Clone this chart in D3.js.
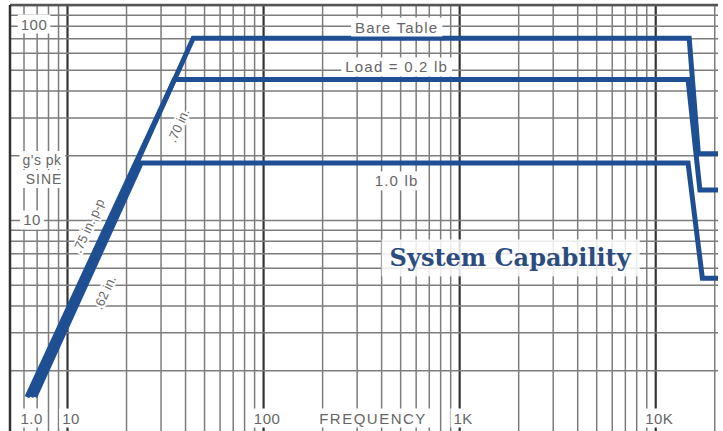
<!DOCTYPE html>
<html lang="en">
<head>
    <meta charset="UTF-8">
    <title>System Capability</title>
    <script src="https://d3js.org/d3.v7.min.js"></script>
    <style>
        * {
            margin: 0;
            padding: 0;
            box-sizing: border-box;
        }
        body {
            background: #fff;
            font-family: "Liberation Sans", Arial, sans-serif;
        }
    </style>
</head>
<body>
    <div id="chart"></div>

    <script>
        // frequency (Hz) / acceleration (g's pk) pairs
        const bareTable = [[6.55, 1.5], [44, 70], [14900, 70], [16600, 20.3], [22000, 20.3]];
        const load02 = [[6.25, 1.5], [35.3, 45], [14700, 45], [16900, 13.8], [22000, 13.8]];
        const load10 = [[6.85, 1.5], [23.9, 18.4], [14700, 18.4], [17400, 5.35], [22000, 5.35]];

        const seriesNames = ["Bare Table", "Load = 0.2 lb", "1.0 lb"];
        const seriesLabelPos = [[480, 79], [480, 51.5], [480, 15.2]];

        const xTickValues = [6.3, 10, 100, 1000, 10000];
        const xTickLabels = ["1.0", "10", "100", "1K", "10K"];

        // displacement limit notes: text, freq, g
        const dispNotes = [[".70 in.", 37, 27.5], [".75 in. p-p", 12.9, 9.4], [".62 in.", 15.6, 4.6]];

        const W = 723, H = 431;
        const plot = { left: 10, right: 718, top: 5, bottom: 431 };

        const x = d3.scaleLog().domain([5.12, 20900]).range([plot.left, plot.right]);
        const y = d3.scaleLog().domain([1.043, 100]).range([plot.bottom, plot.top]);

        const svg = d3.select("#chart")
            .append("svg")
            .attr("width", W)
            .attr("height", H);

        svg.append("defs").append("clipPath")
            .attr("id", "clip")
            .append("rect")
            .attr("x", plot.left)
            .attr("y", plot.top)
            .attr("width", plot.right - plot.left)
            .attr("height", plot.bottom - plot.top);

        const isMajor = v => Math.abs(Math.log10(v) - Math.round(Math.log10(v))) < 1e-6;

        // vertical grid
        const gx = svg.append("g")
            .attr("transform", `translate(0, ${plot.bottom})`)
            .call(d3.axisBottom(x)
                .tickValues(x.ticks())
                .tickSize(-(plot.bottom - plot.top))
                .tickFormat(""));
        gx.select(".domain").remove();
        gx.selectAll("line")
            .style("stroke", d => isMajor(d) ? "#333" : "#7d7d7d")
            .style("stroke-width", d => isMajor(d) ? 2.2 : 1.5);

        // horizontal grid
        const gy = svg.append("g")
            .attr("transform", `translate(${plot.left}, 0)`)
            .call(d3.axisLeft(y)
                .tickValues(y.ticks())
                .tickSize(-(plot.right - plot.left))
                .tickFormat(""));
        gy.select(".domain").remove();
        gy.selectAll("line")
            .style("stroke", "#7d7d7d")
            .style("stroke-width", 1.5);

        // frame
        svg.append("line")
            .attr("x1", plot.left).attr("x2", plot.right)
            .attr("y1", plot.top).attr("y2", plot.top)
            .style("stroke", "#555").style("stroke-width", 2.5);
        svg.append("line")
            .attr("x1", plot.left).attr("x2", plot.left)
            .attr("y1", plot.top).attr("y2", plot.bottom)
            .style("stroke", "#333").style("stroke-width", 2.5);

        // text with a white box behind it, knocks out the grid
        function boxedText(px, py, str, size, pad, spacing) {
            const g = svg.append("g");
            const t = g.append("text")
                .attr("x", px)
                .attr("y", py)
                .attr("text-anchor", "middle")
                .attr("dominant-baseline", "central")
                .style("font-size", size + "px")
                .style("letter-spacing", (spacing || 0) + "px")
                .style("fill", "#666")
                .text(str);
            const b = t.node().getBBox();
            g.insert("rect", "text")
                .attr("x", b.x - pad)
                .attr("y", b.y - 1)
                .attr("width", b.width + pad * 2)
                .attr("height", b.height + 2)
                .attr("fill", "#fff");
            return t;
        }

        // series
        const line = d3.line()
            .x(d => x(d[0]))
            .y(d => y(d[1]));

        const seriesData = [bareTable, load02, load10];

        svg.append("g")
            .attr("clip-path", "url(#clip)")
            .selectAll("path")
            .data(seriesData)
            .join("path")
            .attr("fill", "none")
            .attr("stroke", "#1f4f93")
            .attr("stroke-width", 5)
            .attr("stroke-linejoin", "miter")
            .attr("d", line);

        // axis labels (bottom)
        xTickValues.forEach((v, i) => {
            boxedText(x(v) + 4, 418, xTickLabels[i], 15, 3, 0.5);
        });
        boxedText(373, 418, "FREQUENCY", 15, 4, 1.5);

        // y labels
        boxedText(34, 24, "100", 15, 3, 0.5);
        boxedText(42, 160, "g's pk", 14, 3, 0.5);
        boxedText(44, 179, "SINE", 14, 3, 1);
        boxedText(32, y(10), "10", 15, 3, 0.5);

        // series labels
        seriesNames.forEach((n, i) => {
            boxedText(x(seriesLabelPos[i][0]), y(seriesLabelPos[i][1]), n, 15, 4, 1.2);
        });

        // displacement notes along the slope
        dispNotes.forEach(d => {
            svg.append("text")
                .attr("transform", `translate(${x(d[1])}, ${y(d[2])}) rotate(-65.5)`)
                .attr("text-anchor", "middle")
                .attr("dominant-baseline", "central")
                .style("font-size", "13px")
                .style("fill", "#666")
                .style("stroke", "#fff")
                .style("stroke-width", 4)
                .style("paint-order", "stroke")
                .text(d[0]);
        });

        // title box
        const tg = svg.append("g");
        const title = tg.append("text")
            .attr("x", x(1820))
            .attr("y", y(6.66))
            .attr("text-anchor", "middle")
            .attr("dominant-baseline", "central")
            .style("font-family", "'DejaVu Serif', serif")
            .style("font-weight", "bold")
            .style("font-size", "24px")
            .style("fill", "#2c4c80")
            .text("System Capability");
        const tb = title.node().getBBox();
        tg.insert("rect", "text")
            .attr("x", tb.x - 8)
            .attr("y", tb.y - 4)
            .attr("width", tb.width + 16)
            .attr("height", tb.height + 8)
            .attr("fill", "#fff")
            .attr("opacity", 0.85);
    </script>
</body>
</html>
